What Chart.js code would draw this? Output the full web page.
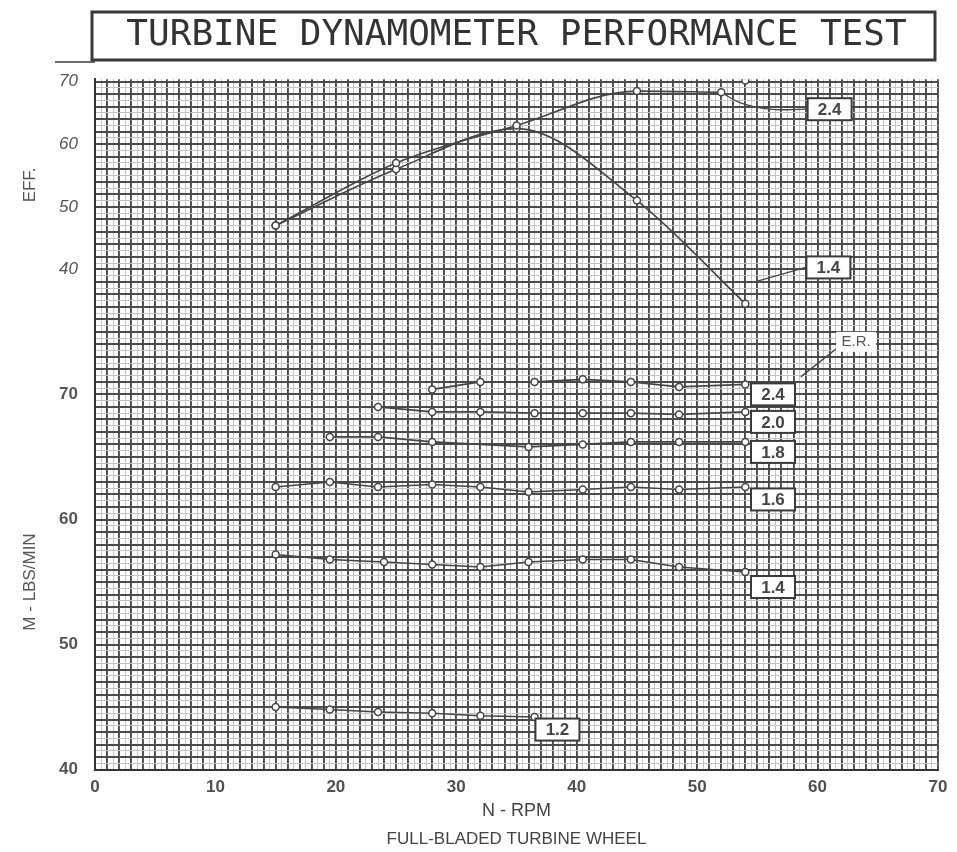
<!DOCTYPE html>
<html>
<head>
<meta charset="utf-8">
<title>Turbine Dynamometer Performance Test</title>
<script src="https://cdn.jsdelivr.net/npm/chart.js@4.4.1/dist/chart.umd.min.js"></script>
<style>
  html, body { margin: 0; padding: 0; background: #fff; }
  #wrap { width: 957px; height: 852px; }
</style>
</head>
<body>
<div id="wrap"><canvas id="turbineChart"></canvas></div>
<script>
// Efficiency curves (upper panel), EFF in percent vs N - RPM
const effRpm24 = [15, 25, 35, 45, 52];
const eff24 = [47, 57, 63, 68.5, 68.3];
const effRpm14 = [15, 25, 35, 45, 54];
const eff14 = [47, 56, 62.5, 51, 34.5];
const effLoneRpm = [54];
const effLone = [70.2];

// Mass flow curves (lower panel), M - LBS/MIN vs N - RPM, one per E.R.
const rpmM24 = [28, 32, 36.5, 40.5, 44.5, 48.5, 54];
const m24 = [70.4, 71.0, 71.0, 71.2, 71.0, 70.6, 70.8];
const rpmM20 = [23.5, 28, 32, 36.5, 40.5, 44.5, 48.5, 54];
const m20 = [69.0, 68.6, 68.6, 68.5, 68.5, 68.5, 68.4, 68.6];
const rpmM18 = [19.5, 23.5, 28, 36, 40.5, 44.5, 48.5, 54];
const m18 = [66.6, 66.6, 66.2, 65.8, 66.0, 66.2, 66.2, 66.2];
const rpmM16 = [15, 19.5, 23.5, 28, 32, 36, 40.5, 44.5, 48.5, 54];
const m16 = [62.6, 63.0, 62.6, 62.8, 62.6, 62.2, 62.4, 62.6, 62.4, 62.6];
const rpmM14 = [15, 19.5, 24, 28, 32, 36, 40.5, 44.5, 48.5, 54];
const m14 = [57.2, 56.8, 56.6, 56.4, 56.2, 56.6, 56.8, 56.8, 56.2, 55.8];
const rpmM12 = [15, 19.5, 23.5, 28, 32, 36.5];
const m12 = [45.0, 44.8, 44.6, 44.5, 44.3, 44.2];

// Tick labels
const xTickLabels = [0, 10, 20, 30, 40, 50, 60, 70];
const mTickLabels = [40, 50, 60, 70];
const effTickLabels = [40, 50, 60, 70];

// E.R. tags: [rpm, value, text, axis]
const erTags = [
  [61.0, 65.6, '2.4', 'yEff'],
  [60.9, 40.3, '1.4', 'yEff'],
  [56.3, 70.0, '2.4', 'y'],
  [56.3, 67.8, '2.0', 'y'],
  [56.3, 65.4, '1.8', 'y'],
  [56.3, 61.6, '1.6', 'y'],
  [56.3, 54.6, '1.4', 'y'],
  [38.4, 43.2, '1.2', 'y']
];
// leader lines to the tags
const lead24Rpm = [52, 53.6, 56, 59];
const lead24Eff = [68.3, 66.6, 65.6, 65.6];
const lead14Rpm = [55, 59];
const lead14Eff = [38.1, 40.3];
const leadErRpm = [58.6, 61.5];
const leadErM = [71.4, 73.6];

// M axis 40..95.2 shares the plot with EFF where EFF = 2*M - 120
const M_MIN = 40, M_MAX = 95.2;
const effOf = m => 2 * m - 120;

const ink = '#454545';
const pts = (xs, ys) => xs.map((x, i) => ({ x: x, y: ys[i] }));

function curve(xs, ys, axis, smooth) {
  return {
    data: pts(xs, ys),
    yAxisID: axis,
    borderColor: ink,
    borderWidth: 1.6,
    backgroundColor: '#fff',
    pointBorderColor: ink,
    pointBackgroundColor: '#fff',
    pointBorderWidth: 1.5,
    pointRadius: 3.5,
    tension: smooth ? 0.4 : 0,
    cubicInterpolationMode: smooth ? 'monotone' : 'default',
    fill: false
  };
}

function leader(xs, ys, axis) {
  return {
    data: pts(xs, ys),
    yAxisID: axis,
    borderColor: ink,
    borderWidth: 1.3,
    pointRadius: 0,
    tension: 0.4,
    fill: false
  };
}

const isWhole = v => Math.abs(v - Math.round(v)) < 0.01;
const gridColor = ctx => isWhole(ctx.tick.value) ? '#4a4a4a' : '#c4c4c4';
const gridWidth = ctx => isWhole(ctx.tick.value) ? 1.9 : 1;

// draws title frame, side titles and the E.R. tags
const paperExtras = {
  id: 'paperExtras',
  afterDraw(chart) {
    const c = chart.ctx;
    const area = chart.chartArea;
    c.save();
    // title frame
    c.strokeStyle = '#3a3a3a';
    c.lineWidth = 3;
    c.strokeRect(area.left - 3, 12, area.right - area.left, 48);
    c.lineWidth = 1.5;
    c.beginPath();
    c.moveTo(55, 62);
    c.lineTo(area.left, 62);
    c.stroke();

    // side titles
    c.fillStyle = '#555';
    c.textAlign = 'center';
    c.textBaseline = 'middle';
    c.font = '17px "Liberation Sans"';
    const sides = [['EFF.', chart.scales.yEff.getPixelForValue(53.5)], ['M - LBS/MIN', chart.scales.y.getPixelForValue(55)]];
    sides.forEach(([t, py]) => {
      c.save();
      c.translate(30, py);
      c.rotate(-Math.PI / 2);
      c.fillText(t, 0, 0);
      c.restore();
    });

    // E.R. tags
    c.font = 'bold 17px "Liberation Sans"';
    erTags.forEach(([x, v, t, axis]) => {
      const px = chart.scales.x.getPixelForValue(x);
      const py = chart.scales[axis].getPixelForValue(v);
      c.fillStyle = '#fff';
      c.fillRect(px - 22, py - 11, 44, 22);
      c.strokeStyle = '#3a3a3a';
      c.lineWidth = 2;
      c.strokeRect(px - 22, py - 11, 44, 22);
      c.fillStyle = '#444';
      c.fillText(t, px, py + 1);
    });

    // E.R. caption
    const ex = chart.scales.x.getPixelForValue(63.2);
    const ey = chart.scales.y.getPixelForValue(74.2);
    c.fillStyle = '#fff';
    c.fillRect(ex - 20, ey - 10, 40, 20);
    c.fillStyle = '#555';
    c.font = '15px "Liberation Sans"';
    c.fillText('E.R.', ex, ey);
    c.restore();
  }
};

const datasets = [
  curve(effRpm24, eff24, 'yEff', true),
  curve(effRpm14, eff14, 'yEff', true),
  Object.assign(curve(effLoneRpm, effLone, 'yEff', false), { showLine: false }),
  leader(lead24Rpm, lead24Eff, 'yEff'),
  leader(lead14Rpm, lead14Eff, 'yEff'),
  leader(leadErRpm, leadErM, 'y'),
  curve(rpmM24, m24, 'y', false),
  curve(rpmM20, m20, 'y', false),
  curve(rpmM18, m18, 'y', false),
  curve(rpmM16, m16, 'y', false),
  curve(rpmM14, m14, 'y', false),
  curve(rpmM12, m12, 'y', false)
];

new Chart(document.getElementById('turbineChart'), {
  type: 'line',
  data: { datasets: datasets },
  plugins: [paperExtras],
  options: {
    responsive: true,
    maintainAspectRatio: false,
    animation: false,
    layout: { padding: { left: 0, right: 19, top: 3, bottom: 0 } },
    plugins: {
      legend: { display: false },
      tooltip: { enabled: false },
      title: {
        display: true,
        fullSize: false,
        text: 'TURBINE DYNAMOMETER PERFORMANCE TEST',
        color: '#333',
        font: { family: '"DejaVu Sans Mono"', size: 36, weight: 'normal' },
        padding: { top: 11, bottom: 22 }
      },
      subtitle: {
        display: true,
        fullSize: false,
        position: 'bottom',
        text: 'FULL-BLADED TURBINE WHEEL',
        color: '#444',
        font: { family: '"Liberation Sans"', size: 17 },
        padding: { top: 8, bottom: 2 }
      }
    },
    scales: {
      x: {
        type: 'linear',
        min: 0,
        max: 70,
        border: { display: true, color: '#333', width: 2 },
        grid: { drawTicks: false, color: gridColor, lineWidth: gridWidth },
        ticks: {
          stepSize: 0.5,
          autoSkip: false,
          maxRotation: 0,
          padding: 8,
          color: '#505050',
          font: { family: '"Liberation Sans"', size: 17, weight: 'bold' },
          callback: v => (isWhole(v) && xTickLabels.includes(Math.round(v))) ? String(Math.round(v)) : ''
        },
        title: {
          display: true,
          text: 'N - RPM',
          color: '#444',
          font: { family: '"Liberation Sans"', size: 18 },
          padding: { top: -6, bottom: 0 }
        }
      },
      y: {
        type: 'linear',
        position: 'left',
        min: M_MIN,
        max: M_MAX,
        afterFit: scale => { scale.width = 95; },
        border: { display: true, color: '#333', width: 2 },
        grid: { drawTicks: false, color: gridColor, lineWidth: gridWidth },
        ticks: {
          stepSize: 0.5,
          includeBounds: false,
          autoSkip: false,
          padding: 17,
          color: '#555',
          font: ctx => ({
            family: '"Liberation Sans"',
            size: 17,
            style: ctx.tick && ctx.tick.value > 75 ? 'italic' : 'normal',
            weight: ctx.tick && ctx.tick.value > 75 ? 'normal' : 'bold'
          }),
          callback: v => {
            if (!isWhole(v)) return '';
            const r = Math.round(v);
            if (mTickLabels.includes(r)) return String(r);
            if (effTickLabels.includes(effOf(r))) return String(effOf(r));
            return '';
          }
        }
      },
      yEff: {
        type: 'linear',
        display: false,
        min: effOf(M_MIN),
        max: effOf(M_MAX)
      }
    }
  }
});
</script>
</body>
</html>
